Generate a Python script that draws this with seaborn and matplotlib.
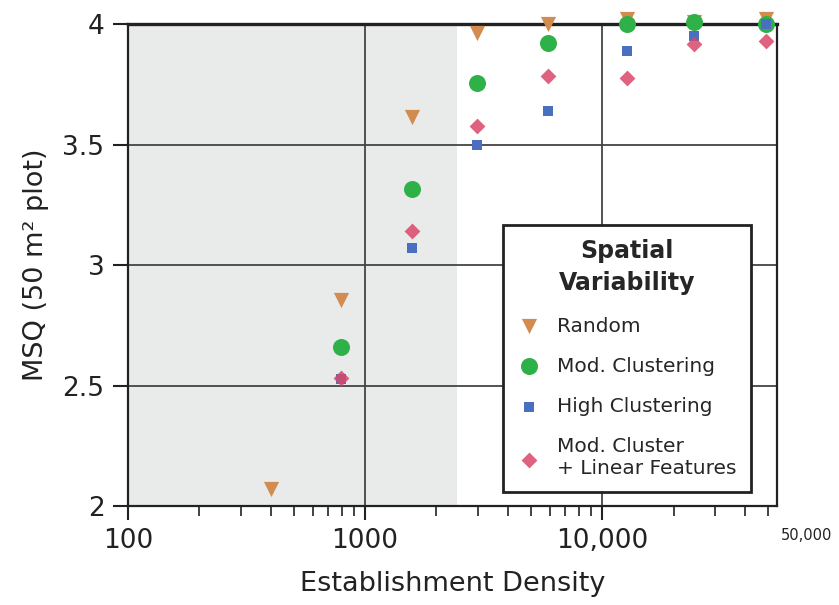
import numpy as np
import pandas as pd
import matplotlib
matplotlib.use("Agg")
import matplotlib.pyplot as plt
import matplotlib.ticker as mticker
import seaborn as sns

# establishment density values
density = [400, 790, 1570, 2950, 5900, 12700, 24500, 49000]

# MSQ per spatial pattern (None = not shown / off the chart)
random_msq = [2.07, 2.855, 3.615, 3.962, 4.0, 4.02, 4.01, 4.02]
mod_clust_msq = [None, 2.66, 3.315, 3.754, 3.92, 4.0, 4.01, 4.0]
high_clust_msq = [None, 2.525, 3.072, 3.496, 3.64, 3.89, 3.95, 4.0]
linear_msq = [None, 2.53, 3.141, 3.575, 3.786, 3.775, 3.917, 3.928]

series_names = ["Random", "Mod. Clustering", "High Clustering",
                "Mod. Cluster\n+ Linear Features"]
series_values = [random_msq, mod_clust_msq, high_clust_msq, linear_msq]

sns.set_style("white")
plt.rcParams['font.family'] = ['DejaVu Sans']

colors = ["#d38c4f", "#2fb14a", "#4a6fc0", "#d8486a"]
markers = ["v", "o", "s", "D"]
sizes = [120, 150, 55, 65]

fig = plt.figure(figsize=(8.39, 6.05), dpi=100)
ax = fig.add_axes([0.1526, 0.1636, 0.7735, 0.7967])

# shaded low-density zone
ax.axvspan(100, 2450, color="#e9ebeb", zorder=0, lw=0)

for name, vals, c, m, s in zip(series_names, series_values, colors, markers, sizes):
    df = pd.DataFrame({"density": density, "msq": vals}).dropna()
    sns.scatterplot(data=df, x="density", y="msq", ax=ax, color=c, marker=m,
                    s=s, linewidth=0, label=name, zorder=3, clip_on=False,
                    alpha=0.85 if m == "D" else 1.0)

ax.set_xscale("log")
ax.set_xlim(100, 54600)
ax.set_ylim(2, 4)

ax.xaxis.set_major_locator(mticker.FixedLocator([100, 1000, 10000]))
ax.xaxis.set_major_formatter(mticker.FixedFormatter(["100", "1000", "10,000"]))
ax.xaxis.set_minor_locator(mticker.LogLocator(base=10, subs=np.arange(2, 10), numticks=20))
ax.xaxis.set_minor_formatter(mticker.NullFormatter())
ax.set_yticks([2, 2.5, 3, 3.5, 4])
ax.set_yticklabels(["2", "2.5", "3", "3.5", "4"])

ax.grid(False)
for v in [1000, 10000]:
    ax.axvline(v, color="#444444", lw=1.3, zorder=1)
for h in [2.5, 3, 3.5]:
    ax.axhline(h, color="#444444", lw=1.3, zorder=1)

for sp in ax.spines.values():
    sp.set_color("#222222")
    sp.set_linewidth(1.6)
ax.spines["top"].set_linewidth(2.4)

ax.tick_params(axis="y", which="major", left=True, direction="out", length=11,
               width=1.5, color="#222222", labelsize=19, labelcolor="#222222", pad=6)
ax.tick_params(axis="x", which="major", bottom=True, direction="out", length=10,
               width=1.5, color="#222222", labelsize=19, labelcolor="#222222", pad=6)
ax.tick_params(axis="x", which="minor", bottom=True, direction="out", length=7,
               width=1.2, color="#222222")

ax.text(1.045, -0.062, "50,000", transform=ax.transAxes, ha="center", va="center",
        fontsize=10.5, color="#222222")

ax.set_xlabel("Establishment Density", fontsize=19.5, color="#222222", labelpad=12)
ax.set_ylabel("MSQ (50 m\u00b2 plot)", fontsize=19.5, color="#222222", labelpad=10)

leg = ax.legend(title="Spatial\nVariability", loc="lower right",
                bbox_to_anchor=(0.96, 0.029), borderaxespad=0,
                frameon=True, fancybox=False,
                framealpha=1, edgecolor="#222222", fontsize=14.5,
                title_fontproperties={"weight": "bold", "size": 17},
                handletextpad=0.8, labelspacing=1.05, borderpad=0.7,
                handlelength=1.2, markerscale=1.0)
leg.get_frame().set_linewidth(2.0)
leg.get_title().set_multialignment("center")
leg.get_title().set_linespacing(1.45)
leg.set_zorder(5)

fig.savefig("out.png", dpi=100)
